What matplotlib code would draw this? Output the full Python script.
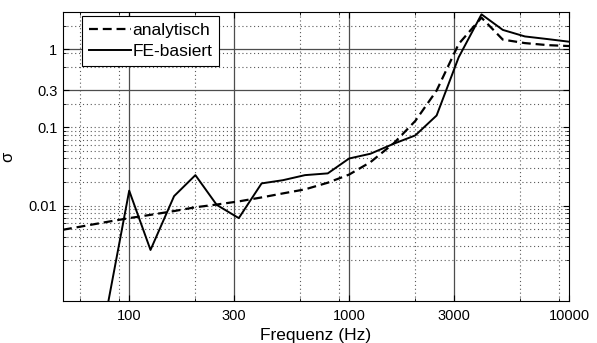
import matplotlib
matplotlib.use('Agg')
import matplotlib.pyplot as plt
from matplotlib.ticker import NullFormatter

# third-octave band centre frequencies (Hz)
freq = [50, 63, 80, 100, 125, 160, 200, 250, 315, 400, 500, 630, 800,
        1000, 1250, 1600, 2000, 2500, 3150, 4000, 5000, 6300, 8000, 10000]
sigma_analytisch = [0.0049, 0.0055, 0.0062, 0.0069, 0.0076, 0.0085, 0.0095,
                    0.0103, 0.0113, 0.0127, 0.0143, 0.0161, 0.0196, 0.0249,
                    0.0359, 0.063, 0.121, 0.296, 1.17, 2.54, 1.33, 1.2, 1.13, 1.1]

freq_fe = [80, 100, 125, 160, 200, 250, 315, 400, 500, 630, 800,
           1000, 1250, 1600, 2000, 2500, 3150, 4000, 5000, 6300, 8000, 10000]
sigma_fe = [0.00055, 0.0155, 0.0027, 0.0132, 0.0245, 0.0102, 0.0069, 0.0192,
            0.0211, 0.0245, 0.0258, 0.040, 0.046, 0.062, 0.079, 0.142, 0.79,
            2.8, 1.77, 1.46, 1.35, 1.25]

xticks = [100, 300, 1000, 3000, 10000]
xtick_labels = ['100', '300', '1000', '3000', '10000']
yticks = [0.01, 0.1, 0.3, 1]
ytick_labels = ['0.01', '0.1', '0.3', '1']

# grid lines as they show up in the picture
grid_x_solid = [100, 300, 1000, 3000]
grid_x_dotted = [60, 90, 200, 600, 900, 2000, 6000, 9000]
grid_y_solid = [0.3, 1]
grid_y_dotted = [2, 0.9, 0.6, 0.2, 0.1, 0.09, 0.08, 0.07, 0.06, 0.05, 0.04,
                 0.03, 0.02, 0.01, 0.009, 0.008, 0.007, 0.006, 0.005, 0.004,
                 0.003, 0.002]

plt.rcParams['font.family'] = ['Liberation Sans', 'DejaVu Sans']

fig = plt.figure(figsize=(5.97, 3.43), dpi=100)
ax = fig.add_axes([63/597, 1 - 301/343, 506/597, 289/343])
ax.set_xscale('log')
ax.set_yscale('log')
ax.set_xlim(50, 10000)
ax.set_ylim(6e-4, 3)

for v in grid_x_solid:
    ax.axvline(v, color='0.3', lw=0.9, zorder=0.5)
for v in grid_x_dotted:
    ax.axvline(v, color='0.35', lw=0.8, ls=(0, (1, 2.5)), zorder=0.5)
for v in grid_y_solid:
    ax.axhline(v, color='0.3', lw=0.9, zorder=0.5)
for v in grid_y_dotted:
    ax.axhline(v, color='0.35', lw=0.8, ls=(0, (1, 2.5)), zorder=0.5)

ax.plot(freq, sigma_analytisch, color='k', ls='--', dashes=(4, 2.2), lw=1.6,
        label='analytisch')
ax.plot(freq_fe, sigma_fe, color='k', ls='-', lw=1.4, label='FE-basiert')

ax.set_xticks(xticks)
ax.set_xticklabels(xtick_labels)
ax.set_yticks(yticks)
ax.set_yticklabels(ytick_labels)
ax.set_xticks(grid_x_dotted, minor=True)
ax.set_yticks(grid_y_dotted, minor=True)
ax.xaxis.set_minor_formatter(NullFormatter())
ax.yaxis.set_minor_formatter(NullFormatter())
ax.tick_params(which='both', direction='in', top=True, right=True,
               labelsize=10.5, colors='k')
ax.tick_params(which='major', length=4)
ax.tick_params(axis='x', which='major', pad=5.5)
ax.tick_params(axis='y', which='major', pad=4)
ax.tick_params(which='minor', length=2.5)
for s in ax.spines.values():
    s.set_linewidth(0.8)

ax.set_xlabel('Frequenz (Hz)', fontsize=12.5)
ax.xaxis.set_label_coords(0.5, -0.095)
ax.set_ylabel('σ', fontsize=12)
ax.yaxis.set_label_coords(-0.095, 0.5)

leg = ax.legend(loc='upper left', bbox_to_anchor=(0.0375, 0.986),
                fancybox=False, framealpha=1, edgecolor='k',
                handlelength=2.4, handletextpad=0.1, borderpad=0.4,
                labelspacing=0.35, borderaxespad=0, fontsize=12.5)
leg.get_frame().set_linewidth(0.8)

fig.savefig('out.png', dpi=100)
